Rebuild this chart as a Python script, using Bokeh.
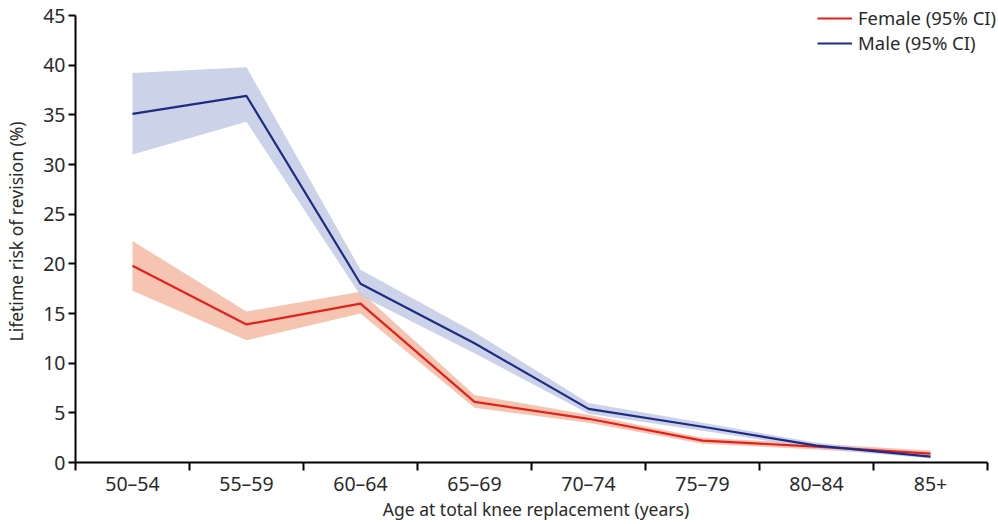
from bokeh.plotting import figure
from bokeh.models import FixedTicker, Range1d, Legend, LegendItem
from bokeh.embed import file_html
from bokeh.resources import INLINE

categories = ["50–54", "55–59", "60–64", "65–69", "70–74", "75–79", "80–84", "85+"]

female = [19.8, 13.9, 16.0, 6.1, 4.4, 2.2, 1.6, 0.9]
female_lo = [17.3, 12.3, 15.0, 5.5, 4.0, 1.9, 1.3, 0.6]
female_hi = [22.3, 15.2, 17.2, 6.8, 4.8, 2.5, 1.9, 1.2]

male = [35.1, 36.9, 18.0, 12.0, 5.4, 3.6, 1.7, 0.6]
male_lo = [31.0, 34.3, 16.8, 11.0, 4.9, 3.2, 1.4, 0.4]
male_hi = [39.2, 39.8, 19.4, 13.1, 6.0, 4.0, 2.0, 0.8]

y_ticks = [0, 5, 10, 15, 20, 25, 30, 35, 40, 45]

n = len(categories)
x = [i + 0.5 for i in range(n)]
FONT = "Noto Sans"
TXT = "#2a2a2a"

W, H = 996, 524
LEFT, BOTTOM = 75, 62
axis_w = 987 - LEFT          # pixel width of the drawn x axis
axis_h = H - BOTTOM - 15     # pixel height of the drawn y axis
frame_w = W - LEFT
frame_h = H - BOTTOM
x_end = n * frame_w / axis_w
y_end = y_ticks[-1] * frame_h / axis_h

p = figure(width=W, height=H, output_backend="svg", toolbar_location=None,
           x_range=Range1d(0, x_end), y_range=Range1d(0, y_end),
           min_border_left=LEFT, min_border_right=0, min_border_top=0, min_border_bottom=BOTTOM)
p.outline_line_color = None
p.xgrid.grid_line_color = None
p.ygrid.grid_line_color = None
p.background_fill_color = "white"

p.varea(x=x, y1=female_lo, y2=female_hi, fill_color="#f3bba3", fill_alpha=0.85)
p.varea(x=x, y1=male_lo, y2=male_hi, fill_color="#c3cbe4", fill_alpha=0.85)
rf = p.line(x, female, line_color="#e3211c", line_width=2.2)
rm = p.line(x, male, line_color="#1f2b82", line_width=2.2)

# x axis
p.xaxis.bounds = (0, n)
p.xaxis.ticker = FixedTicker(ticks=x, minor_ticks=list(range(n + 1)))
p.xaxis.major_label_overrides = {xv: c for xv, c in zip(x, categories)}
p.xaxis.major_tick_line_color = None
p.xaxis.major_tick_out = 0
p.xaxis.major_tick_in = 0
p.xaxis.minor_tick_line_color = "black"
p.xaxis.minor_tick_line_width = 2
p.xaxis.minor_tick_out = 8
p.xaxis.minor_tick_in = 0
p.xaxis.major_label_standoff = -1
p.xaxis.axis_label = "Age at total knee replacement (years)"
p.xaxis.axis_label_standoff = -3

# y axis
p.yaxis.bounds = (y_ticks[0], y_ticks[-1])
p.yaxis.ticker = FixedTicker(ticks=y_ticks)
p.yaxis.major_tick_out = 7
p.yaxis.major_tick_in = 0
p.yaxis.major_tick_line_width = 2
p.yaxis.minor_tick_line_color = None
p.yaxis.major_label_standoff = 3
p.yaxis.axis_label = "Lifetime risk of revision (%)"
p.yaxis.axis_label_standoff = 12

for ax in (p.xaxis[0], p.yaxis[0]):
    ax.axis_line_color = "black"
    ax.axis_line_width = 2
    ax.major_label_text_font = FONT
    ax.major_label_text_font_size = "19.5px"
    ax.major_label_text_color = TXT
    ax.axis_label_text_font = FONT
    ax.axis_label_text_font_size = "17.5px"
    ax.axis_label_text_font_style = "normal"
    ax.axis_label_text_color = TXT

legend = Legend(items=[LegendItem(label="Female (95% CI)", renderers=[rf]),
                       LegendItem(label="Male (95% CI)", renderers=[rm])],
                location=(742, 407), background_fill_alpha=0, border_line_color=None,
                label_text_font=FONT, label_text_font_size="18.5px", label_text_color=TXT,
                glyph_width=35, label_height=20, spacing=0, padding=0, margin=0, label_standoff=6)
p.add_layout(legend)

open("out.html", "w").write(file_html(p, INLINE))
